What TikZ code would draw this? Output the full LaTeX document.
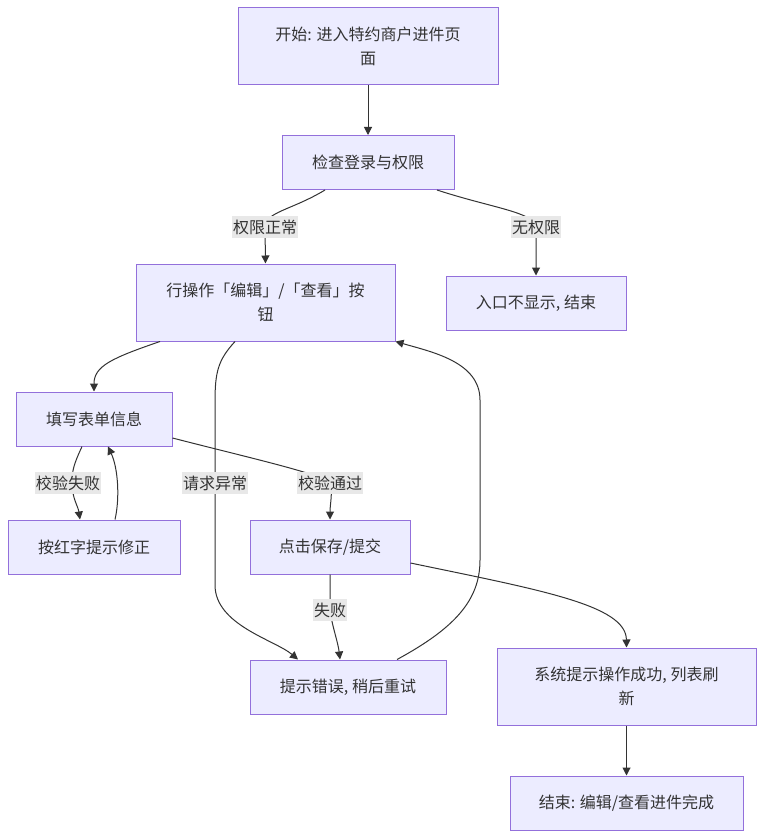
\documentclass[tikz,border=0pt]{standalone}
\usepackage{fontspec}
\setmainfont{Noto Sans CJK SC}
\usepackage{tikz}
\usetikzlibrary{arrows.meta,calc}
\definecolor{boxfill}{HTML}{ECECFF}
\definecolor{boxline}{HTML}{9370DB}
\definecolor{ink}{HTML}{333333}
\definecolor{lblfill}{HTML}{E8E8E8}

\begin{document}
\begin{tikzpicture}[
  x=0.75pt, y=-0.75pt,
  font=\fontsize{12}{18}\selectfont,
  box/.style={draw=boxline, fill=boxfill, line width=0.75pt, align=center,
              text=ink, inner sep=0pt, minimum height=40.5pt},
  tall/.style={box, minimum height=57.75pt},
  lbl/.style={fill=lblfill, text=ink, inner xsep=1pt, inner ysep=0pt,
              minimum height=16.5pt},
  flow/.style={-{Triangle[length=6pt,width=6pt]}, draw=ink, line width=0.75pt}
]
\fill[white] (0,0) rectangle (765,838);
\useasboundingbox (0,0) rectangle (765,838);

% nodes
\node[tall, minimum width=195pt]   (start)   at (368,46.5)  {开始: 进入特约商户进件页\\面};
\node[box,  minimum width=129pt]   (check)   at (368,162.5) {检查登录与权限};
\node[tall, minimum width=194.25pt] (btn)    at (265.5,302.5) {行操作「编辑」/「查看」按\\钮};
\node[box,  minimum width=135pt]   (noperm)  at (536,303)   {入口不显示, 结束};
\node[box,  minimum width=117pt]   (fill)    at (94,419)    {填写表单信息};
\node[box,  minimum width=129pt]   (redfix)  at (94,547)    {按红字提示修正};
\node[box,  minimum width=120pt]   (save)    at (330,547)   {点击保存/提交};
\node[box,  minimum width=147pt]   (err)     at (348,687)   {提示错误, 稍后重试};
\node[tall, minimum width=194.25pt] (success) at (626.5,686.5) {系统提示操作成功, 列表刷\\新};
\node[box,  minimum width=174.75pt] (finish)  at (626.5,803) {结束: 编辑/查看进件完成};

% label spots
\coordinate (l1) at (265,227);
\coordinate (l2) at (536,227);
\coordinate (l3) at (68,483);
\coordinate (l4) at (215,483);
\coordinate (l5) at (330,483);
\coordinate (l6) at (330,610);

% connectors
\draw[flow] (start) -- (check);
\draw[flow] ($(check.south)+(-43,0)$) .. controls (292,210) and (265,212) .. (l1) -- (btn.north);
\draw[flow] ($(check.south)+(69,0)$) .. controls (492,208) and (534,212) .. (l2) -- (noperm.north);
\draw[flow] ($(btn.south)+(-105.5,0)$) .. controls (112,358) and (94,366) .. (fill.north);
\draw[flow] ($(btn.south)+(-30.5,0)$) .. controls (218,360) and (215,372) .. (215,402)
  -- (l4) -- (215,585) .. controls (215,625) and (275,640) .. ($(err.north)+(-50,0)$);
\draw[flow] ($(fill.south)+(-12,0)$) .. controls (74,464) and (72,470) .. (72,483)
  .. controls (72,498) and (78,506) .. ($(redfix.north)+(-14,0)$);
\draw[flow] ($(redfix.north)+(21,0)$) .. controls (120,498) and (118,468) .. ($(fill.south)+(14,0)$);
\draw[flow] ($(fill.east)+(0,19)$) .. controls (250,458) and (322,474) .. (l5)
  .. controls (333,492) and (330,504) .. (save.north);
\draw[flow] (save.south) -- (l6) .. controls (332,626) and (338,642) .. ($(err.north)+(-8,0)$);
\draw[flow] ($(save.east)+(0,16)$) .. controls (540,590) and (626,605) .. (success.north);
\draw[flow] ($(err.north)+(49,0)$) .. controls (455,628) and (480,600) .. (480,560)
  -- (480,400) .. controls (480,362) and (432,352) .. (btn.south east);
\draw[flow] (success) -- (finish);

% edge labels
\node[lbl] (t1) at (l1) {权限正常};
\node[lbl] (t2) at (l2) {无权限};
\node[lbl] (t3) at (l3) {校验失败};
\node[lbl] (t4) at (l4) {请求异常};
\node[lbl] (t5) at (l5) {校验通过};
\node[lbl] (t6) at (l6) {失败};
\end{tikzpicture}
\end{document}
